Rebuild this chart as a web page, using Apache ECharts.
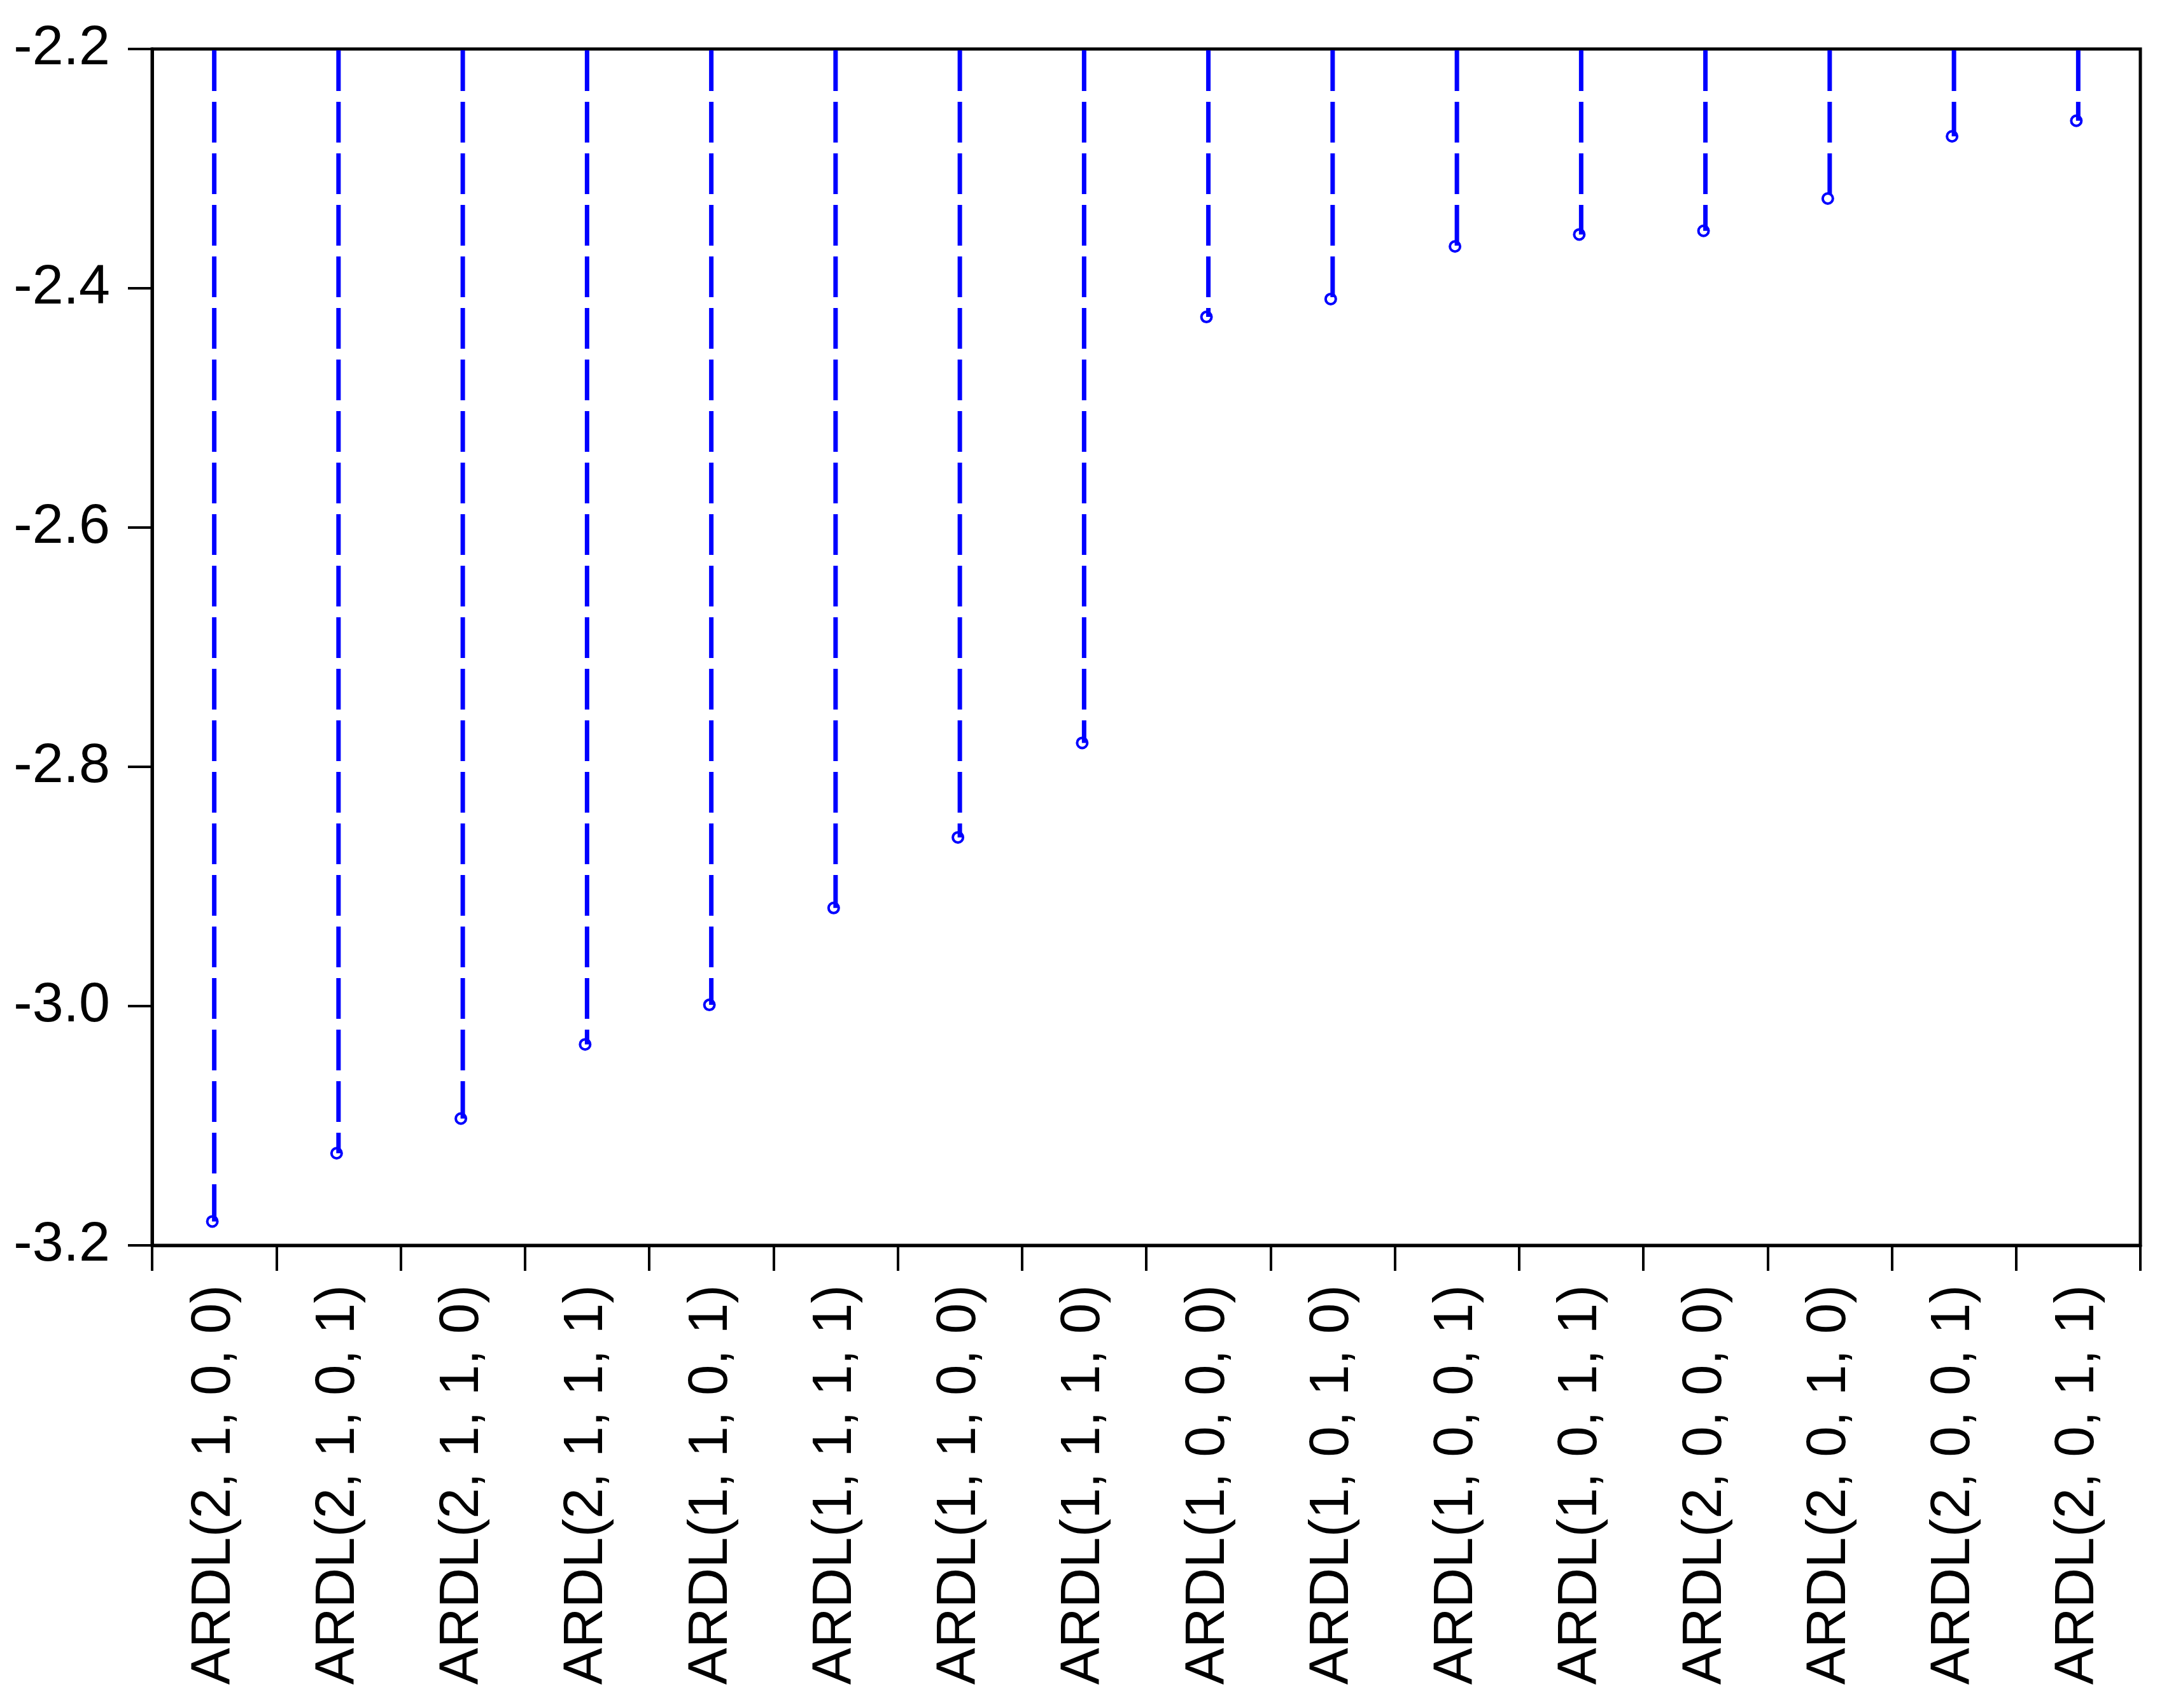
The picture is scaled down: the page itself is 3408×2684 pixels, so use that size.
<!DOCTYPE html>
<html>
<head>
<meta charset="utf-8">
<script src="https://cdn.jsdelivr.net/npm/echarts@6/dist/echarts.min.js"></script>
<style>
  html, body { margin: 0; padding: 0; background: #ffffff; }
  #chart { width: 3408px; height: 2684px; }
</style>
</head>
<body>
<div id="chart"></div>
<script>
const categories = [
  'ARDL(2, 1, 0, 0)', 'ARDL(2, 1, 0, 1)', 'ARDL(2, 1, 1, 0)', 'ARDL(2, 1, 1, 1)',
  'ARDL(1, 1, 0, 1)', 'ARDL(1, 1, 1, 1)', 'ARDL(1, 1, 0, 0)', 'ARDL(1, 1, 1, 0)',
  'ARDL(1, 0, 0, 0)', 'ARDL(1, 0, 1, 0)', 'ARDL(1, 0, 0, 1)', 'ARDL(1, 0, 1, 1)',
  'ARDL(2, 0, 0, 0)', 'ARDL(2, 0, 1, 0)', 'ARDL(2, 0, 0, 1)', 'ARDL(2, 0, 1, 1)'
];
const criteriaValues = [
  -3.180, -3.123, -3.094, -3.032,
  -2.999, -2.918, -2.859, -2.780,
  -2.424, -2.409, -2.365, -2.355,
  -2.352, -2.325, -2.273, -2.260
];
const yTicks = [-3.2, -3.0, -2.8, -2.6, -2.4, -2.2];
const yMin = -3.2;
const yMax = -2.2;
const yStep = 0.2;

const FONT = "'Liberation Sans', Arial, sans-serif";
const BLUE = '#0000ff';

const stemData = categories.map((c, i) => [i, criteriaValues[i]]);

const chart = echarts.init(document.getElementById('chart'), null, { renderer: 'canvas' });
chart.setOption({
  animation: false,
  backgroundColor: '#ffffff',
  grid: {
    left: 239, right: 45, top: 77, bottom: 727,
    show: true, borderColor: '#000000', borderWidth: 5, backgroundColor: 'transparent'
  },
  xAxis: {
    type: 'category',
    data: categories,
    boundaryGap: true,
    axisLine: { show: true, lineStyle: { color: '#000000', width: 5 } },
    axisTick: { show: true, inside: false, length: 40, alignWithLabel: false, interval: 0,
                lineStyle: { color: '#000000', width: 4 } },
    axisLabel: { show: true, interval: 0, rotate: 90, margin: 62, color: '#000000',
                 fontFamily: FONT, fontSize: 87 },
    splitLine: { show: false }
  },
  yAxis: {
    type: 'value',
    min: yMin, max: yMax, interval: yStep,
    axisLine: { show: true, lineStyle: { color: '#000000', width: 5 } },
    axisTick: { show: true, inside: false, length: 38, lineStyle: { color: '#000000', width: 4 } },
    axisLabel: { show: true, margin: 66, color: '#000000', fontFamily: FONT, fontSize: 88,
                 formatter: v => {
                   const t = yTicks.find(k => Math.abs(k - v) < 1e-9);
                   return (t !== undefined ? t : v).toFixed(1);
                 } },
    splitLine: { show: false }
  },
  series: [
    {
      type: 'custom',
      data: stemData,
      z: 3,
      renderItem: function (params, api) {
        const top = api.coord([api.value(0), yMax]);
        const pt = api.coord([api.value(0), api.value(1)]);
        return {
          type: 'group',
          children: [
            {
              type: 'circle',
              shape: { cx: pt[0] - 3, cy: pt[1], r: 8 },
              style: { fill: '#ffffff', stroke: BLUE, lineWidth: 4 },
              z2: 1
            },
            {
              type: 'line',
              shape: { x1: top[0], y1: top[1] + 2, x2: pt[0], y2: pt[1] },
              style: { stroke: BLUE, lineWidth: 7, lineDash: [64, 17], fill: null, lineCap: 'butt' },
              z2: 2
            }
          ]
        };
      }
    }
  ]
});
</script>
</body>
</html>
